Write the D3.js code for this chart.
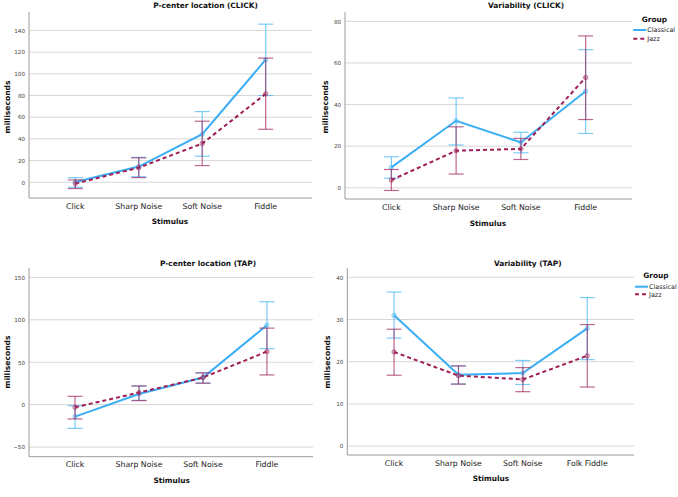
<!DOCTYPE html>
<html>
<head>
<meta charset="utf-8">
<script src="https://cdn.jsdelivr.net/npm/d3@7"></script>
<style>
  body { margin: 0; background: #fff; }
  svg { display: block; font-family: "DejaVu Sans", sans-serif; }
</style>
</head>
<body>
<svg width="678" height="497"></svg>
<script>
// categories
var stimuliClick = ["Click", "Sharp Noise", "Soft Noise", "Fiddle"];
var stimuliTap = ["Click", "Sharp Noise", "Soft Noise", "Folk Fiddle"];
var groups = ["Classical", "Jazz"];

// P-center location (CLICK): means and error bar ends
var pcClickClassical = [0.3, 14.5, 44.3, 113];
var pcClickClassicalLo = [-4.6, 5.2, 24, 80];
var pcClickClassicalHi = [4.3, 23, 65.2, 145.8];
var pcClickJazz = [-1.2, 13.5, 35.7, 81.5];
var pcClickJazzLo = [-5.8, 4.3, 15.4, 48.9];
var pcClickJazzHi = [2.2, 22.5, 56.3, 114.5];

// Variability (CLICK)
var varClickClassical = [9.8, 32.2, 21.8, 46.4];
var varClickClassicalLo = [4.6, 20.6, 16.8, 26.1];
var varClickClassicalHi = [14.9, 43.2, 26.7, 66.4];
var varClickJazz = [3.7, 17.8, 18.7, 53];
var varClickJazzLo = [-1.3, 6.6, 13.6, 32.8];
var varClickJazzHi = [8.8, 29.3, 23.7, 73];

// P-center location (TAP)
var pcTapClassical = [-14.2, 12.6, 31.9, 93.7];
var pcTapClassicalLo = [-28, 5.1, 25.5, 66.1];
var pcTapClassicalHi = [-1.2, 22, 37.5, 121.3];
var pcTapJazz = [-3.1, 14.2, 31.9, 62.6];
var pcTapJazzLo = [-16.9, 4.7, 25.2, 35];
var pcTapJazzHi = [9.8, 22, 37.4, 90.2];

// Variability (TAP)
var varTapClassical = [31, 16.9, 17.3, 27.9];
var varTapClassicalLo = [25.6, 14.7, 14.6, 20.5];
var varTapClassicalHi = [36.5, 19, 20.3, 35.2];
var varTapJazz = [22.3, 16.7, 15.8, 21.4];
var varTapJazzLo = [16.8, 14.7, 12.9, 14];
var varTapJazzHi = [27.7, 19, 18.6, 28.8];

// tick labels
var ticksPcClick = [0, 20, 40, 60, 80, 100, 120, 140];
var ticksVarClick = [0, 20, 40, 60, 80];
var ticksPcTap = [-50, 0, 50, 100, 150];
var ticksVarTap = [0, 10, 20, 30, 40];

var svg = d3.select("svg");

var lineColor = { Classical: "#3aaef4", Jazz: "#9e1f57" };
var barColor = { Classical: "rgba(80,185,245,0.75)", Jazz: "rgba(160,40,95,0.7)" };

var panels = [
  { title: "P-center location (CLICK)", cats: stimuliClick, ticks: ticksPcClick,
    x0: 29, x1: 312, y0: 12, y1: 198, dom: [-14.5, 157], pad: 0.73,
    titleX: 205.5, titleY: 8, catY: 209, stimY: 224, stimX: 170, msX: 9.5, msY: 107,
    series: [[pcClickClassical, pcClickClassicalLo, pcClickClassicalHi], [pcClickJazz, pcClickJazzLo, pcClickJazzHi]],
    legend: null },
  { title: "Variability (CLICK)", cats: stimuliClick, ticks: ticksVarClick,
    x0: 345, x1: 632, y0: 12, y1: 199, dom: [-5.4, 84.5], pad: 0.716,
    titleX: 526, titleY: 8, catY: 210, stimY: 226, stimX: 488, msX: 328, msY: 107,
    series: [[varClickClassical, varClickClassicalLo, varClickClassicalHi], [varClickJazz, varClickJazzLo, varClickJazzHi]],
    legend: { x: 641.7, y: 22, lx: 633.3, tx: 647.3, rows: [30, 38.7] } },
  { title: "P-center location (TAP)", cats: stimuliClick, ticks: ticksPcTap,
    x0: 29, x1: 313, y0: 268, y1: 456.7, dom: [-61.4, 161.1], pad: 0.72,
    titleX: 208, titleY: 266, catY: 467, stimY: 483, stimX: 171.7, msX: 9.5, msY: 362,
    series: [[pcTapClassical, pcTapClassicalLo, pcTapClassicalHi], [pcTapJazz, pcTapJazzLo, pcTapJazzHi]],
    legend: null },
  { title: "Variability (TAP)", cats: stimuliTap, ticks: ticksVarTap,
    x0: 347.3, x1: 634, y0: 268, y1: 455, dom: [-2.1, 42.2], pad: 0.726,
    titleX: 527.7, titleY: 266, catY: 466, stimY: 481, stimX: 491, msX: 330, msY: 362,
    series: [[varTapClassical, varTapClassicalLo, varTapClassicalHi], [varTapJazz, varTapJazzLo, varTapJazzHi]],
    legend: { x: 643.3, y: 278, lx: 635, tx: 649, rows: [286.7, 294.3] } }
];

panels.forEach(function (p) {
  var x = d3.scalePoint().domain(p.cats).range([p.x0, p.x1]).padding(p.pad);
  var y = d3.scaleLinear().domain(p.dom).range([p.y1, p.y0]);
  var g = svg.append("g");

  // gridlines
  g.selectAll(".grid").data(p.ticks).enter().append("line")
    .attr("x1", p.x0).attr("x2", p.x1)
    .attr("y1", function (d) { return y(d); }).attr("y2", function (d) { return y(d); })
    .attr("stroke", "#d6d6d6").attr("stroke-width", 1);

  // y axis
  var ya = g.append("g").attr("transform", "translate(" + p.x0 + ",0)")
    .call(d3.axisLeft(y).tickValues(p.ticks).tickSize(0).tickPadding(4));
  ya.select(".domain").remove();
  ya.selectAll("text").attr("font-size", "5.6px").attr("fill", "#444").attr("font-family", "DejaVu Sans");
  g.append("line").attr("x1", p.x0).attr("x2", p.x0).attr("y1", p.y0).attr("y2", p.y1)
    .attr("stroke", "#9a9a9a").attr("stroke-width", 1);
  g.append("line").attr("x1", p.x0).attr("x2", p.x1).attr("y1", p.y1).attr("y2", p.y1)
    .attr("stroke", "#9a9a9a").attr("stroke-width", 1);

  // category labels
  g.selectAll(".cat").data(p.cats).enter().append("text")
    .attr("x", function (d) { return x(d); }).attr("y", p.catY)
    .attr("text-anchor", "middle").attr("font-size", "7.8px").attr("fill", "#222")
    .text(function (d) { return d; });

  g.append("text").attr("x", p.stimX).attr("y", p.stimY).attr("text-anchor", "middle")
    .attr("font-size", "7.4px").attr("font-weight", "bold").attr("fill", "#111").text("Stimulus");
  g.append("text").attr("transform", "translate(" + p.msX + "," + p.msY + ") rotate(-90)")
    .attr("text-anchor", "middle").attr("font-size", "7.6px").attr("font-weight", "bold")
    .attr("fill", "#111").text("milliseconds");
  g.append("text").attr("x", p.titleX).attr("y", p.titleY).attr("text-anchor", "middle")
    .attr("font-size", "7.4px").attr("font-weight", "bold").attr("fill", "#111").text(p.title);

  // series
  p.series.forEach(function (s, gi) {
    var grp = groups[gi];
    var pts = p.cats.map(function (c, i) { return { c: c, m: s[0][i], lo: s[1][i], hi: s[2][i] }; });
    var eb = g.append("g");
    eb.selectAll(".v").data(pts).enter().append("line")
      .attr("x1", function (d) { return x(d.c); }).attr("x2", function (d) { return x(d.c); })
      .attr("y1", function (d) { return y(d.lo); }).attr("y2", function (d) { return y(d.hi); })
      .attr("stroke", barColor[grp]).attr("stroke-width", 1.2);
    ["lo", "hi"].forEach(function (k) {
      eb.selectAll(".c" + k).data(pts).enter().append("line")
        .attr("x1", function (d) { return x(d.c) - 7.5; }).attr("x2", function (d) { return x(d.c) + 7.5; })
        .attr("y1", function (d) { return y(d[k]); }).attr("y2", function (d) { return y(d[k]); })
        .attr("stroke", barColor[grp]).attr("stroke-width", 1.2);
    });
    g.append("path").datum(pts)
      .attr("d", d3.line().x(function (d) { return x(d.c); }).y(function (d) { return y(d.m); }))
      .attr("fill", "none").attr("stroke", lineColor[grp]).attr("stroke-width", 2)
      .attr("stroke-dasharray", grp === "Jazz" ? "4,3" : null);
    g.selectAll(".pt" + gi).data(pts).enter().append("circle")
      .attr("cx", function (d) { return x(d.c); }).attr("cy", function (d) { return y(d.m); })
      .attr("r", 2.2).attr("fill", barColor[grp]).attr("fill-opacity", 0.35)
      .attr("stroke", barColor[grp]).attr("stroke-width", 0.8);
  });

  // legend
  if (p.legend) {
    var L = p.legend;
    g.append("text").attr("x", L.x).attr("y", L.y).attr("font-size", "7.4px")
      .attr("font-weight", "bold").attr("fill", "#111").text("Group");
    groups.forEach(function (grp, i) {
      g.append("line").attr("x1", L.lx).attr("x2", L.tx - 1).attr("y1", L.rows[i]).attr("y2", L.rows[i])
        .attr("stroke", lineColor[grp]).attr("stroke-width", 2)
        .attr("stroke-dasharray", grp === "Jazz" ? "4,3" : null);
      g.append("text").attr("x", L.tx).attr("y", L.rows[i] + 2.3).attr("font-size", "6.4px")
        .attr("fill", "#222").text(grp);
    });
  }
});
</script>
</body>
</html>
